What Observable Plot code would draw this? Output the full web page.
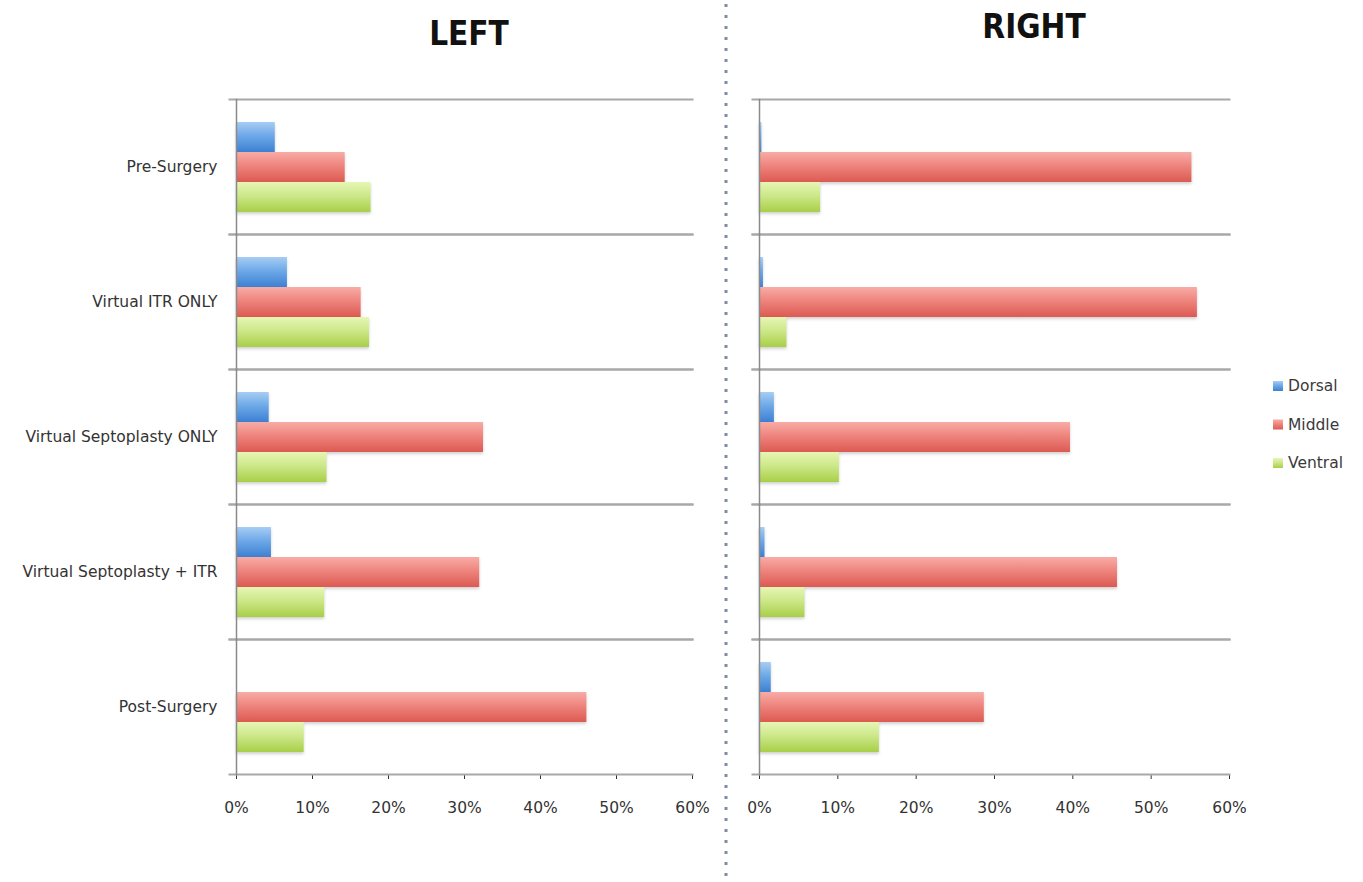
<!DOCTYPE html>
<html>
<head>
<meta charset="utf-8">
<script src="https://cdn.jsdelivr.net/npm/d3@7"></script>
<script src="https://cdn.jsdelivr.net/npm/@observablehq/plot@0.6"></script>
<style>
  body { margin: 0; background: #fff; }
  #chart { position: relative; width: 1363px; height: 882px; overflow: hidden; }
  .panel { position: absolute; top: 0; }
  #overlay { position: absolute; left: 0; top: 0; pointer-events: none; }
  .title { font-family: "Liberation Sans Narrow", "DejaVu Sans Condensed", sans-serif; font-weight: bold; font-size: 33px; fill: #111; }
  .legend-text { font-family: "DejaVu Sans", sans-serif; font-size: 15.5px; fill: #3a3a3a; }
  g[aria-label="bar"] rect { filter: drop-shadow(0px 2px 1.5px rgba(0,0,0,0.18)); }
</style>
</head>
<body>
<div id="chart">
  <svg width="0" height="0" style="position:absolute">
    <defs>
      <linearGradient id="gDorsal" x1="0" y1="0" x2="0" y2="1">
        <stop offset="0" stop-color="#a7cdf4"/>
        <stop offset="0.45" stop-color="#6ea9e8"/>
        <stop offset="1" stop-color="#3d80d2"/>
      </linearGradient>
      <linearGradient id="gMiddle" x1="0" y1="0" x2="0" y2="1">
        <stop offset="0" stop-color="#f8aca6"/>
        <stop offset="0.45" stop-color="#ee857e"/>
        <stop offset="1" stop-color="#dc5a52"/>
      </linearGradient>
      <linearGradient id="gVentral" x1="0" y1="0" x2="0" y2="1">
        <stop offset="0" stop-color="#e6f6b4"/>
        <stop offset="0.45" stop-color="#cde88a"/>
        <stop offset="1" stop-color="#a8cf48"/>
      </linearGradient>
    </defs>
  </svg>
</div>
<script>
// Share of each region (Dorsal / Middle / Ventral) per scenario, left and right side
const categories = [
  "Pre-Surgery",
  "Virtual ITR ONLY",
  "Virtual Septoplasty ONLY",
  "Virtual Septoplasty + ITR",
  "Post-Surgery"
];
const series = ["Dorsal", "Middle", "Ventral"];

const leftDorsal  = [0.051, 0.067, 0.043, 0.046, 0.000];
const leftMiddle  = [0.143, 0.164, 0.325, 0.320, 0.461];
const leftVentral = [0.177, 0.175, 0.119, 0.116, 0.089];

const rightDorsal  = [0.003, 0.005, 0.019, 0.007, 0.015];
const rightMiddle  = [0.552, 0.559, 0.397, 0.457, 0.287];
const rightVentral = [0.078, 0.035, 0.102, 0.058, 0.153];

const xTicks = [0, 0.1, 0.2, 0.3, 0.4, 0.5, 0.6];
const titles = ["LEFT", "RIGHT"];

// long-format rows for one side
function rows(dorsal, middle, ventral) {
  const out = [];
  const bySeries = {Dorsal: dorsal, Middle: middle, Ventral: ventral};
  categories.forEach((c, i) => {
    series.forEach(s => out.push({category: c, series: s, value: bySeries[s][i]}));
  });
  return out;
}

const leftRows = rows(leftDorsal, leftMiddle, leftVentral);
const rightRows = rows(rightDorsal, rightMiddle, rightVentral);

const fills = ["url(#gDorsal)", "url(#gMiddle)", "url(#gVentral)"];

function panel(data, {width, marginLeft, marginRight, showLabels}) {
  return Plot.plot({
    width,
    height: 830,
    marginTop: 97,
    marginBottom: 55,
    marginLeft,
    marginRight,
    style: {fontFamily: "DejaVu Sans, sans-serif", fontSize: "15.5px", color: "#333", background: "transparent", overflow: "visible"},
    facet: {data, y: "category"},
    fy: {
      domain: categories,
      padding: 0,
      label: null,
      axis: showLabels ? "left" : null,
      tickSize: 0,
      tickPadding: 19
    },
    y: {domain: series, paddingInner: 0, paddingOuter: 0.72, axis: null},
    x: {
      domain: [0, 0.6],
      ticks: xTicks,
      tickFormat: d3.format(".0%"),
      tickSize: 5,
      tickPadding: 22,
      label: null
    },
    color: {domain: series, range: fills},
    marks: [
      Plot.frame({anchor: "top", stroke: "#a8a8a8", strokeWidth: 2, insetLeft: -7}),
      Plot.frame({anchor: "bottom", stroke: "#a8a8a8", strokeWidth: 2, insetLeft: -7}),
      Plot.barX(data, {y: "series", x: "value", fill: "series"}),
      Plot.frame({anchor: "left", stroke: "#8a8a8a", strokeWidth: 1.5})
    ]
  });
}

const chart = document.getElementById("chart");

const left = panel(leftRows, {width: 720, marginLeft: 236, marginRight: 28, showLabels: true});
left.classList.add("panel");
left.style.left = "0px";
chart.appendChild(left);

const right = panel(rightRows, {width: 543, marginLeft: 39, marginRight: 34, showLabels: false});
right.classList.add("panel");
right.style.left = "720px";
chart.appendChild(right);

// titles, separator and legend
const overlay = d3.select(chart).append("svg")
  .attr("id", "overlay")
  .attr("width", 1363)
  .attr("height", 882);

overlay.append("line")
  .attr("x1", 726).attr("x2", 726)
  .attr("y1", 4).attr("y2", 882)
  .attr("stroke", "#7d8ca3")
  .attr("stroke-width", 3)
  .attr("stroke-dasharray", "3 8");

overlay.append("text").attr("class", "title")
  .attr("x", 469).attr("y", 45).attr("text-anchor", "middle").text(titles[0]);
overlay.append("text").attr("class", "title")
  .attr("x", 1034).attr("y", 38).attr("text-anchor", "middle").text(titles[1]);

const legend = overlay.append("g").attr("transform", "translate(1273,386)");
series.forEach((s, i) => {
  const g = legend.append("g").attr("transform", `translate(0,${i * 38.5})`);
  g.append("rect").attr("x", 0).attr("y", -5).attr("width", 10).attr("height", 10).attr("fill", fills[i]);
  g.append("text").attr("class", "legend-text").attr("x", 15).attr("y", 0).attr("dy", "0.35em").text(s);
});
</script>
</body>
</html>
